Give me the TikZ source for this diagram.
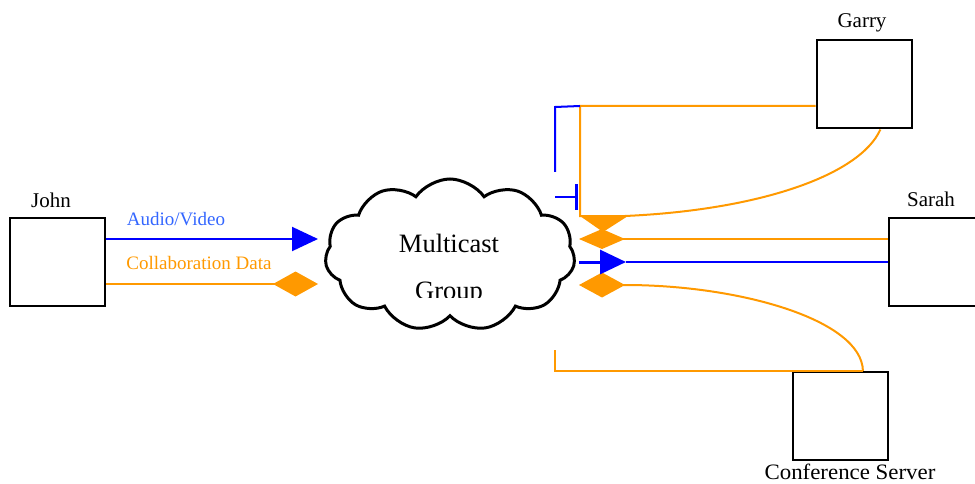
\documentclass[tikz,border=0pt]{standalone}
\usepackage{fontspec}
\setmainfont{Liberation Serif}
\usetikzlibrary{arrows.meta,shapes.symbols}
\definecolor{netorange}{RGB}{255,153,0}
\definecolor{netblue}{RGB}{0,0,255}
\definecolor{labelblue}{RGB}{51,102,255}

\begin{document}
\begin{tikzpicture}[x=1pt,y=-1pt]
    \tikzstyle{station}=[draw=black, line width=2pt, minimum width=95pt, minimum height=88pt, inner sep=0pt]
    \tikzstyle{hostname}=[font=\fontsize{21}{25}\selectfont]
    \tikzstyle{flowname}=[font=\fontsize{19}{23}\selectfont]
    \tikzstyle{av}=[draw=netblue, line width=2pt]
    \tikzstyle{collab}=[draw=netorange, line width=2pt]
    \useasboundingbox (0,0) rectangle (975,484);

    % hosts
    \node[station] (john) at (57.5,262) {};
    \node[station] (garry) at (864,84.5) {};
    \node[station] (sarah) at (936,262) {};
    \node[station] (server) at (840,416) {};
    \node[hostname] (jl) at (51,200) {John};
    \node[hostname] (gl) at (862,23) {Garry};
    \node[hostname] (sl) at (931,199) {Sarah};
    \node[hostname, font=\fontsize{22}{26}\selectfont, xscale=1.04] (cl) at (850,472) {Conference Server};

    % group
    \node[cloud, draw, line width=3pt, cloud puffs=11, cloud puff arc=110, aspect=1.6,
          minimum width=250pt, minimum height=152pt, inner sep=0pt] (cloud) at (450,255) {};
    \node[font=\fontsize{26.5}{30}\selectfont] (mc) at (449,243) {Multicast};
    \begin{scope}
      \clip (380,270) rectangle (520,297);
      \node[font=\fontsize{26.5}{30}\selectfont] (grp) at (449,294) {Group};
    \end{scope}

    % john to group
    \coordinate (avin) at (318,239);
    \coordinate (cdin) at (318,284);
    \draw[av, -{Triangle[length=26pt,width=24pt]}] (john.east |- avin) -- (avin);
    \draw[collab, -{Diamond[length=45pt,width=25pt]}] (john.east |- cdin) -- (cdin);
    \node[flowname, text=labelblue] (avl) at (176,219) {Audio/Video};
    \node[flowname, text=netorange] (cdl) at (199,263) {Collaboration Data};

    % group to the others
    \coordinate (gk) at (580,106);
    \coordinate (gd) at (580,216);
    \draw[collab] (garry.west |- gk) -- (gk) -- (gd) -- (625,216)
        .. controls (760,210) and (860,175) .. (garry.-70);
    \fill[netorange] (gd) -- (628,216) -- (603,232) -- cycle;

    \coordinate (d2) at (579,239);
    \draw[collab, -{Diamond[length=46pt,width=20pt]}] (sarah.west |- d2) -- (d2);

    \coordinate (d3) at (579,285);
    \draw[collab, -{Diamond[length=46pt,width=25pt]}] (server.63)
        .. controls (862,320) and (740,285) .. (625,285) -- (d3);
    \coordinate (ck) at (555,350);
    \draw[collab] (ck) -- (ck |- server.north) -- (server.63);

    \coordinate (bt) at (555,172);
    \coordinate (bk) at (555,107);
    \draw[av] (bt) -- (bk) -- (gk);
    \coordinate (bs) at (555,197);
    \coordinate (bb) at (578,197);
    \draw[av, -{Bar[width=25pt,line width=3pt]}] (bs) -- (bb);

    \coordinate (b3) at (579,262);
    \coordinate (b3t) at (626,262);
    \draw[av, line width=3pt, -{Triangle[length=26pt,width=24pt]}] (b3) -- (b3t);
    \draw[av] (b3t) -- (sarah.west |- b3t);
    %\draw (cloud) -- (sarah);
\end{tikzpicture}
\end{document}
